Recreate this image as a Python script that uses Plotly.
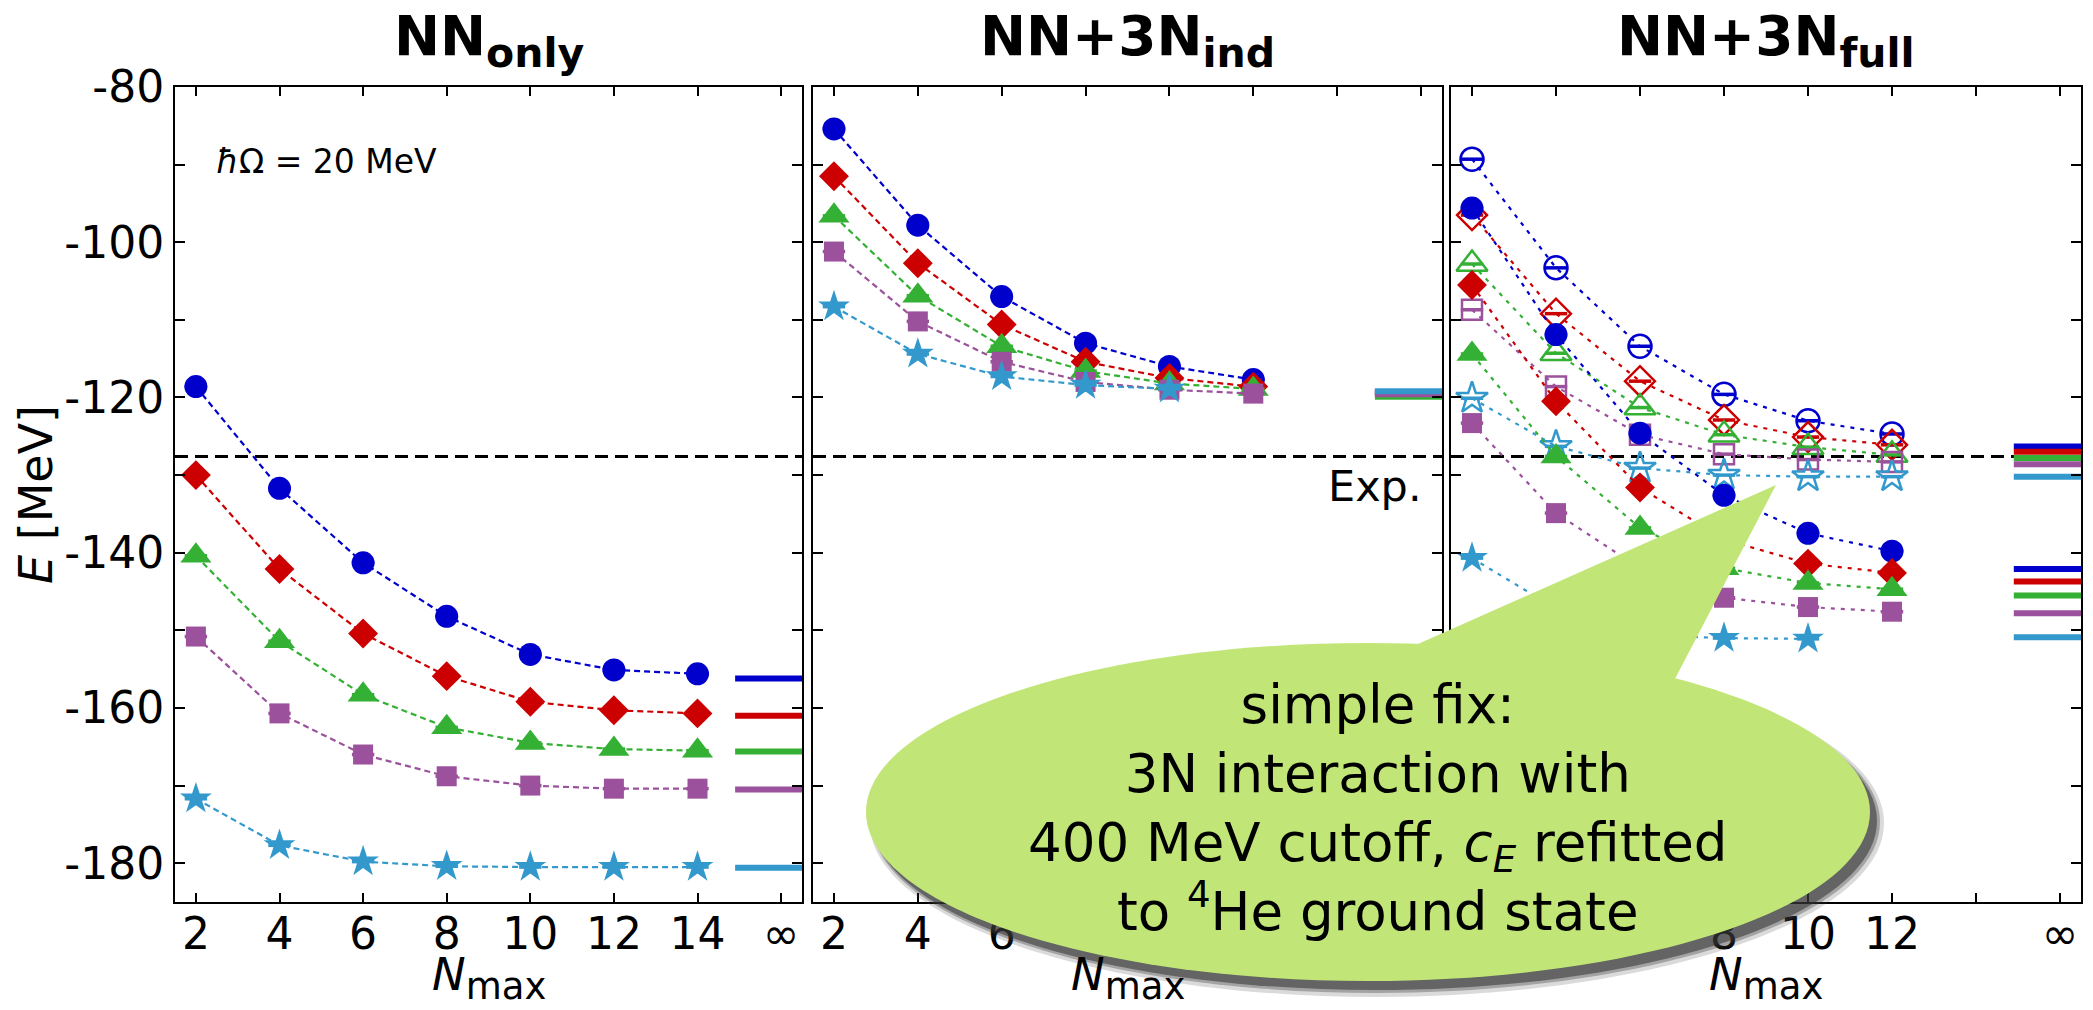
import plotly.graph_objects as go

W, H = 2093, 1010

# ---------------------------------------------------------------- data
nmax_nn = [2, 4, 6, 8, 10, 12, 14]
nmax_3n = [2, 4, 6, 8, 10, 12]
nmax_star_3n = [2, 4, 6, 8, 10]
x_inf = 16  # position of the "infinity" column
exp_energy = -127.62

# NN only
nn_circle = [-118.6, -131.7, -141.3, -148.2, -153.1, -155.1, -155.6]
nn_diamond = [-130.0, -142.1, -150.4, -155.9, -159.2, -160.3, -160.7]
nn_triangle = [-140.4, -151.4, -158.3, -162.5, -164.5, -165.3, -165.5]
nn_square = [-150.8, -160.7, -166.0, -168.8, -170.0, -170.4, -170.4]
nn_star = [-171.7, -177.7, -179.8, -180.4, -180.5, -180.5, -180.5]
nn_extrap = [-156.2, -161.0, -165.6, -170.5, -180.6]

# NN + induced 3N
ind_circle = [-85.4, -97.8, -107.0, -113.0, -116.0, -117.7]
ind_diamond = [-91.5, -102.7, -110.6, -115.4, -117.5, -118.6]
ind_triangle = [-96.6, -106.9, -113.4, -116.6, -118.2, -118.9]
ind_square = [-101.2, -110.2, -115.4, -118.0, -119.0, -119.5]
ind_star = [-108.3, -114.4, -117.3, -118.4, -118.9]
ind_extrap = [-119.3, -119.4, -119.9, -119.6, -119.2]

# NN + full 3N (filled symbols)
full_circle = [-95.6, -111.9, -124.6, -132.6, -137.5, -139.8]
full_diamond = [-105.5, -120.5, -131.6, -138.3, -141.4, -142.6]
full_triangle = [-114.4, -127.6, -136.8, -142.0, -143.9, -144.7]
full_square = [-123.3, -134.9, -142.0, -145.8, -147.0, -147.6]
full_star = [-140.7, -147.2, -150.6, -151.0, -151.1]
full_extrap = [-142.1, -143.7, -145.5, -147.8, -150.9]

# NN + full 3N (open symbols)
open_circle = [-89.3, -103.3, -113.4, -119.6, -123.0, -124.7]
open_diamond = [-96.5, -109.2, -117.9, -122.9, -125.1, -126.1]
open_triangle = [-102.8, -114.3, -121.3, -124.8, -126.4, -127.4]
open_square = [-108.7, -118.6, -124.8, -127.3, -128.0, -128.3]
open_star = [-120.1, -126.3, -129.1, -130.0, -130.2, -130.2]
open_extrap = [-126.3, -127.0, -127.8, -128.6, -130.2]

x_tick_vals = [2, 4, 6, 8, 10, 12, 14, 16]
x_tick_text_nn = ["2", "4", "6", "8", "10", "12", "14", "\u221e"]
x_tick_text_3n = ["2", "4", "6", "8", "10", "12", "", "\u221e"]
y_tick_vals = list(range(-180, -79, 10))
y_tick_text = [f"-{abs(v)}" if v % 20 == 0 else "" for v in y_tick_vals]

panel_titles = [("NN", "only"), ("NN+3N", "ind"), ("NN+3N", "full")]

callout_lines = ["simple fix:", "3N interaction with",
                 "400 MeV cutoff, <i>c<sub>E</sub></i> refitted",
                 "to <sup>4</sup>He ground state"]

# ---------------------------------------------------------------- style
FONT = "DejaVu Sans"
BLUE, RED, GREEN, PURPLE, CYAN = "#0000cc", "#cc0000", "#34b034", "#9b519b", "#3399cc"
colors = [BLUE, RED, GREEN, PURPLE, CYAN]
symbols = ["circle", "diamond", "triangle-up", "square", "star"]
sizes = [23, 23, 27, 20, 24]
TICK_FONT = 44

# panel geometry in pixels
panels_px = [(175, 802), (813, 1442), (1451, 2081)]
top_px, bot_px = 87, 902
y_dom = [1 - bot_px / H, 1 - top_px / H]

fig = go.Figure()


def axis_names(i):
    return ("x" if i == 0 else f"x{i + 1}", "y" if i == 0 else f"y{i + 1}")


def add_series(panel, xs, ys, color, symbol, size, dash, open_sym=False):
    xa, ya = axis_names(panel)
    # zero-length error caps drawn as short horizontal bars
    fig.add_trace(go.Scatter(
        x=xs, y=ys, xaxis=xa, yaxis=ya, mode="markers", showlegend=False,
        hoverinfo="skip",
        marker=dict(symbol="line-ew", size=16, color=color,
                    line=dict(color=color, width=3.5))))
    marker = dict(symbol=symbol + ("-open" if open_sym else ""), size=size,
                  color=color, line=dict(width=2.5 if open_sym else 0, color=color))
    fig.add_trace(go.Scatter(
        x=xs, y=ys, xaxis=xa, yaxis=ya, mode="lines+markers", showlegend=False,
        line=dict(color=color, width=2.2, dash=dash), marker=marker))


def add_extrap(panel, vals):
    xa, ya = axis_names(panel)
    for v, c in zip(vals, colors):
        fig.add_trace(go.Scatter(
            x=[14.9, 16.5], y=[v, v], xaxis=xa, yaxis=ya, mode="lines",
            showlegend=False, line=dict(color=c, width=6)))


def add_exp(panel):
    xa, ya = axis_names(panel)
    fig.add_trace(go.Scatter(
        x=[1.5, 16.5], y=[exp_energy, exp_energy], xaxis=xa, yaxis=ya,
        mode="lines", showlegend=False,
        line=dict(color="black", width=3, dash="13px,7px")))


# panel 1: NN only
add_exp(0)
for ys, c, s, sz in zip([nn_circle, nn_diamond, nn_triangle, nn_square, nn_star], colors, symbols, sizes):
    add_series(0, nmax_nn, ys, c, s, sz, "6px,4px")
add_extrap(0, nn_extrap)

# panel 2: NN + 3N induced
add_exp(1)
ind_sets = [ind_circle, ind_diamond, ind_triangle, ind_square, ind_star]
for ys, c, s, sz in zip(ind_sets, colors, symbols, sizes):
    xs = nmax_star_3n if s == "star" else nmax_3n
    add_series(1, xs, ys, c, s, sz, "6px,4px")
add_extrap(1, ind_extrap)

# panel 3: NN + 3N full, open and filled symbols
add_exp(2)
open_sets = [open_circle, open_diamond, open_triangle, open_square, open_star]
for ys, c, s, sz in zip(open_sets, colors, symbols, sizes):
    add_series(2, nmax_3n, ys, c, s, sz, "4px,6px", open_sym=True)
full_sets = [full_circle, full_diamond, full_triangle, full_square, full_star]
for ys, c, s, sz in zip(full_sets, colors, symbols, sizes):
    xs = nmax_star_3n if s == "star" else nmax_3n
    add_series(2, xs, ys, c, s, sz, "4px,6px")
add_extrap(2, open_extrap)
add_extrap(2, full_extrap)

# ---------------------------------------------------------------- axes
layout = dict(
    width=W, height=H, margin=dict(l=0, r=0, t=0, b=0, autoexpand=False),
    paper_bgcolor="white", plot_bgcolor="white",
    font=dict(family=FONT, color="black"), showlegend=False,
)
for i, (x0, x1) in enumerate(panels_px):
    xk = "xaxis" if i == 0 else f"xaxis{i + 1}"
    yk = "yaxis" if i == 0 else f"yaxis{i + 1}"
    xa, ya = axis_names(i)
    layout[xk] = dict(
        domain=[x0 / W, x1 / W], range=[1.5, 16.5], anchor=ya, automargin=False,
        tickvals=x_tick_vals, ticktext=x_tick_text_nn if i == 0 else x_tick_text_3n,
        ticks="inside", ticklen=9, tickwidth=2, tickcolor="black",
        showline=True, linewidth=2, linecolor="black", mirror="allticks",
        showgrid=False, zeroline=False, tickfont=dict(size=TICK_FONT, family=FONT),
        ticklabelstandoff=-8,
    )
    layout[yk] = dict(
        domain=y_dom, range=[-185, -80], anchor=xa, automargin=False,
        tickvals=y_tick_vals, ticktext=y_tick_text, showticklabels=(i == 0),
        ticks="inside", ticklen=10, tickwidth=2, tickcolor="black",
        showline=True, linewidth=2, linecolor="black", mirror="allticks",
        showgrid=False, zeroline=False, tickfont=dict(size=TICK_FONT, family=FONT),
    )


def px(x):
    return x / W


def py(y):
    return 1 - y / H


annotations = []
for i, (x0, x1) in enumerate(panels_px):
    cx = (x0 + x1) / 2
    main, sub = panel_titles[i]
    annotations.append(dict(
        xref="paper", yref="paper", x=px(cx), y=py(40), xanchor="center", yanchor="middle",
        text=f"<b>{main}<sub><span style='font-size:41px'>{sub}</span></sub></b>",
        showarrow=False, font=dict(size=55, family=FONT)))
    annotations.append(dict(
        xref="paper", yref="paper", x=px(cx), y=py(978), xanchor="center", yanchor="middle",
        text="<i>N</i><sub><span style='font-size:37px'>max</span></sub>", showarrow=False,
        font=dict(size=45, family=FONT)))

annotations.append(dict(
    xref="paper", yref="paper", x=px(36), y=py(495), xanchor="center", yanchor="middle",
    text="<i>E</i> [MeV]", textangle=-90, showarrow=False, font=dict(size=46, family=FONT)))
annotations.append(dict(
    xref="paper", yref="paper", x=px(214), y=py(161), xanchor="left", yanchor="middle",
    text="<i>\u0127</i>\u03a9 = 20 MeV", showarrow=False, font=dict(size=33, family=FONT)))
annotations.append(dict(
    xref="paper", yref="paper", x=px(1424), y=py(486), xanchor="right", yanchor="middle",
    text="Exp.", showarrow=False, font=dict(size=43, family=FONT)))

# ---------------------------------------------------------------- callout bubble
K = 0.5523


def ellipse_path(cx, cy, rx, ry):
    p = lambda x, y: f"{px(x):.5f},{py(y):.5f}"
    return (
        f"M {p(cx + rx, cy)} "
        f"C {p(cx + rx, cy + K * ry)} {p(cx + K * rx, cy + ry)} {p(cx, cy + ry)} "
        f"C {p(cx - K * rx, cy + ry)} {p(cx - rx, cy + K * ry)} {p(cx - rx, cy)} "
        f"C {p(cx - rx, cy - K * ry)} {p(cx - K * rx, cy - ry)} {p(cx, cy - ry)} "
        f"C {p(cx + K * rx, cy - ry)} {p(cx + rx, cy - K * ry)} {p(cx + rx, cy)} Z"
    )


def poly_path(pts):
    return "M " + " L ".join(f"{px(x):.5f},{py(y):.5f}" for x, y in pts) + " Z"


ECX, ECY, ERX, ERY = 1368, 812, 502, 169
BUBBLE = "#c1e677"
tail = [(1776, 485), (1400, 652), (1500, 720), (1664, 700)]

shapes = []
for dx, dy, grow, col in [(9, 11, 5, "rgba(70,70,70,0.20)"),
                          (8, 10, 2, "rgba(60,60,60,0.35)"),
                          (7, 9, 0, "rgba(50,50,50,0.55)")]:
    shapes.append(dict(type="path", xref="paper", yref="paper", layer="above",
                       path=ellipse_path(ECX + dx, ECY + dy, ERX + grow, ERY + grow),
                       fillcolor=col, line=dict(width=0)))
shapes.append(dict(type="path", xref="paper", yref="paper", layer="above",
                   path=ellipse_path(ECX, ECY, ERX, ERY), fillcolor=BUBBLE, line=dict(width=0)))
shapes.append(dict(type="path", xref="paper", yref="paper", layer="above",
                   path=poly_path(tail), fillcolor=BUBBLE, line=dict(width=0)))

annotations.append(dict(
    xref="paper", yref="paper", x=px(1377), y=py(808), xanchor="center", yanchor="middle",
    text="<br>".join(callout_lines), align="center", showarrow=False,
    font=dict(size=53, family=FONT, color="black")))

layout["annotations"] = annotations
layout["shapes"] = shapes
fig.update_layout(**layout)

fig.write_html("out.html")
